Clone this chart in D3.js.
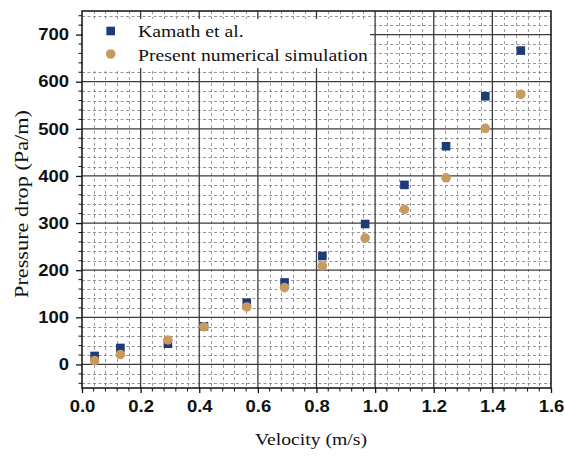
<!DOCTYPE html>
<html>
<head>
<meta charset="utf-8">
<script src="https://cdn.jsdelivr.net/npm/d3@7"></script>
<style>
  html, body { margin: 0; padding: 0; background: #fff; }
  svg { display: block; }
</style>
</head>
<body>
<svg id="chart" width="565" height="457"></svg>
<script>
// Measured pressure drop versus inlet velocity
const velocity = [0.043, 0.131, 0.293, 0.416, 0.562, 0.691, 0.820, 0.966, 1.100, 1.242, 1.376, 1.497];
const kamath   = [18, 35, 44, 81, 131, 174, 230, 298, 381, 463, 569, 666];
const present  = [8, 21, 52, 80, 122, 163, 209, 268, 329, 396, 501, 573];

const seriesNames = ["Kamath et al.", "Present numerical simulation"];
const xTicks = [0.0, 0.2, 0.4, 0.6, 0.8, 1.0, 1.2, 1.4, 1.6];
const yTicks = [0, 100, 200, 300, 400, 500, 600, 700];
const xLabel = "Velocity (m/s)";
const yLabel = "Pressure drop (Pa/m)";

const svg = d3.select("#chart");
const plotL = 82, plotR = 551, plotT = 11, plotB = 388;

const x = d3.scaleLinear().domain([0, 1.6]).range([plotL, plotR]);
const y = d3.scaleLinear().domain([-50, 750]).range([plotB, plotT]);
const crisp = v => Math.round(v) + 0.5;

const serif = "'Liberation Serif', 'Times New Roman', serif";
const sans = "'Liberation Sans', Arial, sans-serif";
const stretch = 1.12;

// widen glyphs horizontally to the drawn proportions
function widen(sel, k) {
  sel.each(function () {
    const w = this.getComputedTextLength();
    d3.select(this).attr("textLength", w * k).attr("lengthAdjust", "spacingAndGlyphs");
  });
}

// minor grid: every 0.04 m/s and every 20 Pa/m
const xMinor = d3.range(0.04, 1.6, 0.04).filter(v => Math.abs(v / 0.2 - Math.round(v / 0.2)) > 1e-6);
const yMinor = d3.range(-40, 750, 20).filter(v => v % 100 !== 0);

const grid = svg.append("g");
grid.selectAll(".xm").data(xMinor).join("line")
  .attr("x1", d => crisp(x(d))).attr("x2", d => crisp(x(d))).attr("y1", plotT).attr("y2", plotB)
  .attr("stroke", "#9a9a9a").attr("stroke-width", 1).attr("stroke-dasharray", "3,3");
grid.selectAll(".ym").data(yMinor).join("line")
  .attr("x1", plotL).attr("x2", plotR).attr("y1", d => crisp(y(d))).attr("y2", d => crisp(y(d)))
  .attr("stroke", "#959595").attr("stroke-width", 1).attr("stroke-dasharray", "3,2.5");

// major grid
grid.selectAll(".xM").data(xTicks.slice(1, -1)).join("line")
  .attr("x1", d => x(d)).attr("x2", d => x(d)).attr("y1", plotT).attr("y2", plotB)
  .attr("stroke", "#3c3c3c").attr("stroke-width", 1.3);
grid.selectAll(".yM").data(yTicks).join("line")
  .attr("x1", plotL).attr("x2", plotR).attr("y1", d => y(d)).attr("y2", d => y(d))
  .attr("stroke", "#3c3c3c").attr("stroke-width", 1.3);

// legend background covering the grid
svg.append("rect").attr("x", plotL + 1).attr("y", 19).attr("width", 287).attr("height", 49)
  .attr("fill", "#fff");

// frame
svg.append("rect").attr("x", plotL).attr("y", plotT).attr("width", plotR - plotL).attr("height", plotB - plotT)
  .attr("fill", "none").attr("stroke", "#111").attr("stroke-width", 1.5);

// axes
const xAxis = svg.append("g").attr("transform", `translate(0,${plotB})`)
  .call(d3.axisBottom(x).tickValues(xTicks).tickFormat(d3.format(".1f")).tickSize(5).tickPadding(7));
const yAxis = svg.append("g").attr("transform", `translate(${plotL},0)`)
  .call(d3.axisLeft(y).tickValues(yTicks).tickFormat(d3.format("d")).tickSize(6).tickPadding(7));
[xAxis, yAxis].forEach(a => {
  a.select(".domain").remove();
  a.selectAll(".tick line").attr("stroke", "#111").attr("stroke-width", 1.3);
  a.selectAll("text").attr("font-family", sans).attr("font-weight", "bold")
    .attr("font-size", 16.5).attr("fill", "#111");
});
widen(xAxis.selectAll("text"), stretch);
widen(yAxis.selectAll("text"), stretch);

// minor ticks
svg.append("g").selectAll("line").data(xMinor).join("line")
  .attr("x1", d => x(d)).attr("x2", d => x(d)).attr("y1", plotB).attr("y2", plotB + 3.5)
  .attr("stroke", "#111").attr("stroke-width", 1);
svg.append("g").selectAll("line").data(yMinor).join("line")
  .attr("x1", plotL - 3.5).attr("x2", plotL).attr("y1", d => y(d)).attr("y2", d => y(d))
  .attr("stroke", "#111").attr("stroke-width", 1);

// markers
const blue = "#1d3b77", tan = "#c99a5e";
const sq = 8.6;
svg.append("g").selectAll("rect").data(velocity.map((v, i) => [v, kamath[i]])).join("rect")
  .attr("x", d => x(d[0]) - sq / 2).attr("y", d => y(d[1]) - sq / 2)
  .attr("width", sq).attr("height", sq).attr("fill", blue);
svg.append("g").selectAll("circle").data(velocity.map((v, i) => [v, present[i]])).join("circle")
  .attr("cx", d => x(d[0])).attr("cy", d => y(d[1])).attr("r", 4.8).attr("fill", tan);

// legend
const lg = svg.append("g");
lg.append("rect").attr("x", 110.7 - sq / 2).attr("y", 31 - sq / 2).attr("width", sq).attr("height", sq).attr("fill", blue);
lg.append("circle").attr("cx", 110.7).attr("cy", 54).attr("r", 4.8).attr("fill", tan);
const lt = lg.selectAll("text").data(seriesNames).join("text")
  .attr("x", 138).attr("y", (d, i) => 37 + i * 23.5)
  .attr("font-family", serif).attr("font-size", 17.6).attr("fill", "#111").text(d => d);
widen(lt, stretch);

// axis titles
const xt = svg.append("text").attr("x", 311).attr("y", 445).attr("text-anchor", "middle")
  .attr("font-family", serif).attr("font-size", 17.6).attr("fill", "#111").text(xLabel);
widen(xt, stretch);

const yt = svg.append("text").attr("transform", "translate(28,204) rotate(-90)").attr("text-anchor", "middle")
  .attr("font-family", serif).attr("font-size", 18.5).attr("fill", "#111").text(yLabel);
yt.attr("textLength", 188).attr("lengthAdjust", "spacingAndGlyphs");
</script>
</body>
</html>
